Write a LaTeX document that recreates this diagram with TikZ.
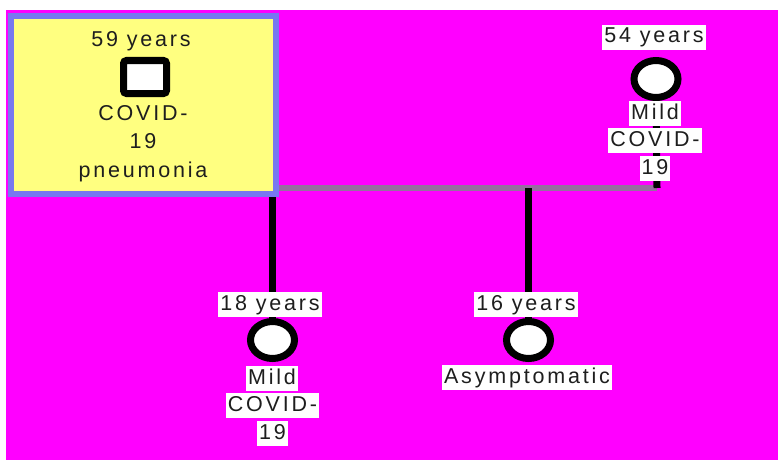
\documentclass[tikz,border=0pt]{standalone}
\usepackage{fontspec}
\setmainfont{Liberation Sans}[LetterSpace=13]
\usetikzlibrary{shapes.geometric}
\definecolor{mag}{RGB}{255,0,255}
\definecolor{boxyel}{RGB}{255,255,128}
\definecolor{boxblue}{RGB}{120,120,240}
\definecolor{linegray}{RGB}{150,110,160}
\definecolor{txtc}{RGB}{30,30,30}
\pgfdeclarelayer{back}
\pgfdeclarelayer{bg}
\pgfsetlayers{back,bg,main}
\tikzset{
  txt/.style={font=\fontsize{21.5}{28.5}\selectfont, text=txtc, inner sep=0pt},
  lab/.style={txt, fill=white, inner xsep=2pt, inner ysep=2.5pt, text height=15.5pt, text depth=4.5pt},
  pbox/.style={draw=boxblue, fill=boxyel, line width=6pt, minimum width=265pt, minimum height=178pt, inner sep=0pt},
  malebox/.style={draw=black, fill=white, line width=7pt, rounded corners=3pt, minimum width=43pt, minimum height=33pt, inner sep=0pt},
  femcirc/.style={ellipse, draw=black, fill=white, line width=7pt, minimum width=44pt, minimum height=37pt, inner sep=0pt},
  hline/.style={draw=linegray, line width=6pt},
  vline/.style={draw=black, line width=7pt},
}
\begin{document}
\begin{tikzpicture}[x=1pt,y=-1pt]
\useasboundingbox (0,0) rectangle (778,460);
\begin{pgfonlayer}{back}
\fill[white] (0,0) rectangle (778,460);
\fill[mag] (6,10) rectangle (778,460);
\end{pgfonlayer}
% father
\node[pbox] (box) at (143.5,105) {};
\node[txt] (age59) at (141,41) {59 years};
\node[malebox] (sq) at (145,77) {};
\node[txt, align=center] (dx59) at (143,143.5) {COVID-\\19\\pneumonia};
% mother
\node[lab] (age54) at (654,37.5) {54 years};
\node[femcirc] (c54) at (656,79) {};
\node[lab] (m54a) at (655,113.5) {Mild};
\node[lab] (m54b) at (655,140.5) {COVID-};
\node[lab] (m54c) at (655,168.5) {19};
% child 18
\node[lab] (age18) at (270,304.5) {18 years};
\node[femcirc] (c18) at (272.5,340) {};
\node[lab] (m18a) at (272,378.5) {Mild};
\node[lab] (m18b) at (272.5,405.5) {COVID-};
\node[lab] (m18c) at (272.5,433.5) {19};
% child 16
\node[lab] (age16) at (526,304.5) {16 years};
\node[femcirc] (c16) at (528.5,340) {};
\node[lab] (a16) at (527,377.5) {Asymptomatic};
% connectors
\coordinate (hend) at (657,188);
\begin{pgfonlayer}{bg}
\draw[hline] (box.east |- hend) -- (hend);
\draw[vline] (c54.center) -- (hend);
\draw[vline] (box.south -| c18.center) -- (c18.center);
\draw[vline] (hend -| c16.center) -- (c16.center);
\end{pgfonlayer}
\end{tikzpicture}
\end{document}
